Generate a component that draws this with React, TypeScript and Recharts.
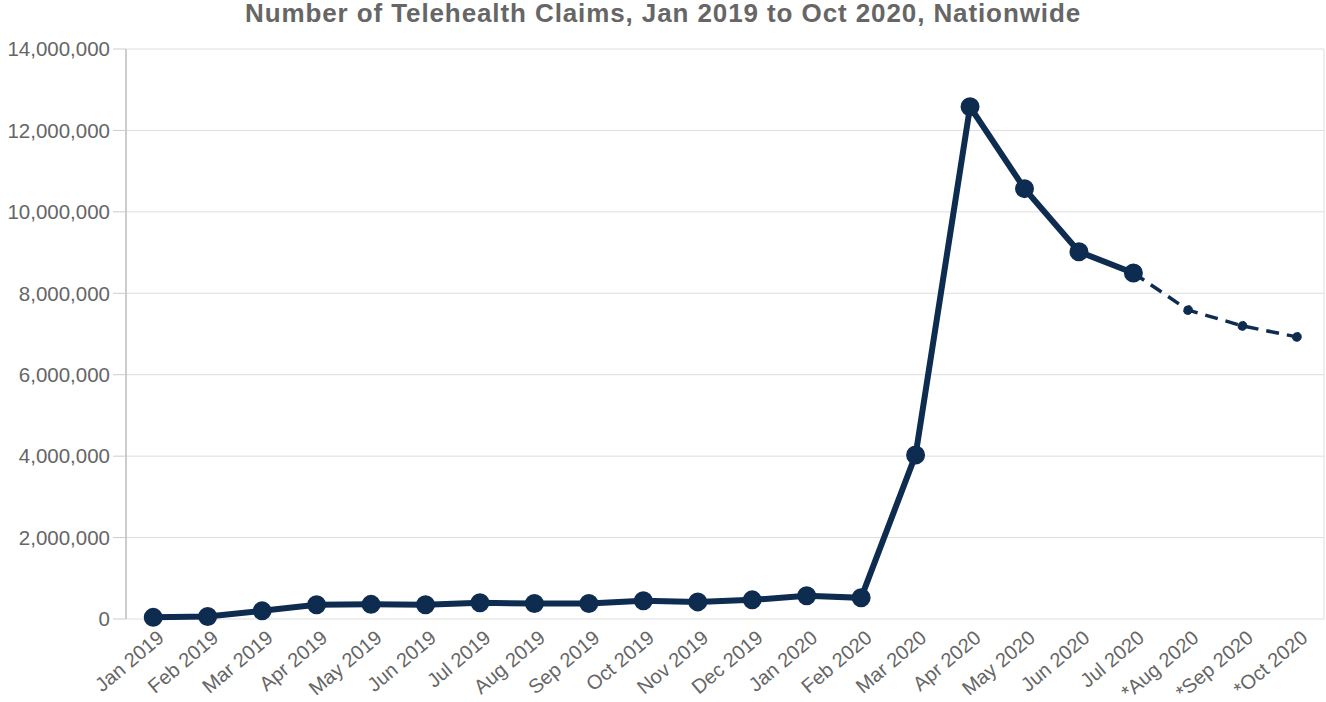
import React from 'react';
import { LineChart, Line, XAxis, YAxis, CartesianGrid } from 'recharts';

const months = [
  'Jan 2019', 'Feb 2019', 'Mar 2019', 'Apr 2019', 'May 2019', 'Jun 2019',
  'Jul 2019', 'Aug 2019', 'Sep 2019', 'Oct 2019', 'Nov 2019', 'Dec 2019',
  'Jan 2020', 'Feb 2020', 'Mar 2020', 'Apr 2020', 'May 2020', 'Jun 2020',
  'Jul 2020', '*Aug 2020', '*Sep 2020', '*Oct 2020',
];

// reported claims (solid line)
const claims: (number | null)[] = [
  40000, 60000, 200000, 350000, 360000, 350000,
  400000, 380000, 380000, 450000, 420000, 470000,
  570000, 520000, 4030000, 12580000, 10570000, 9020000,
  8500000, null, null, null,
];

// estimated claims (dashed line), starts at the last reported month
const estimated: (number | null)[] = [
  null, null, null, null, null, null,
  null, null, null, null, null, null,
  null, null, null, null, null, null,
  8500000, 7590000, 7200000, 6930000,
];

const yTicks = [0, 2000000, 4000000, 6000000, 8000000, 10000000, 12000000, 14000000];

const data = months.map((m, i) => ({
  idx: i,
  month: m,
  claims: claims[i],
  estimated: estimated[i],
}));

const labelTicks = months.map((_, i) => i);
const boundaryTicks = [...months.map((_, i) => i - 0.5), months.length - 0.5];
const xDomain = [-0.5, months.length - 0.5];

const NAVY = '#0d2c4f';
const FONT = '"Liberation Sans", Arial, sans-serif';

const MonthTick = (props: any) => {
  const { x, y, payload } = props;
  return (
    <g transform={`translate(${x + 3},${y}) rotate(-40)`}>
      <text x={0} y={0} dy="0.71em" textAnchor="end" fill="#666" fontSize={20} fontFamily={FONT}>
        {months[payload.value]}
      </text>
    </g>
  );
};

const App: React.FC = () => {
  return (
    <div style={{ position: 'absolute', left: 0, top: 0, width: 1326, height: 702, background: '#fff', fontFamily: FONT }}>
      <div
        style={{
          position: 'absolute',
          top: 0,
          left: 0,
          width: 1326,
          textAlign: 'center',
          fontSize: 26,
          lineHeight: '26px',
          letterSpacing: 0.9,
          fontWeight: 'bold',
          color: '#666',
        }}
      >
        Number of Telehealth Claims, Jan 2019 to Oct 2020, Nationwide
      </div>
      <LineChart
        width={1326}
        height={702}
        data={data}
        margin={{ top: 49, right: 2, left: 0, bottom: 0 }}
      >
        <CartesianGrid stroke="#dedede" xAxisId="grid" />
        <XAxis
          xAxisId="grid"
          dataKey="idx"
          type="number"
          domain={xDomain}
          ticks={boundaryTicks}
          height={0}
          tick={false}
          tickSize={14}
          tickLine={{ stroke: '#dedede' }}
          axisLine={{ stroke: '#aaa' }}
        />
        <XAxis
          xAxisId="main"
          dataKey="idx"
          type="number"
          domain={xDomain}
          ticks={labelTicks}
          height={83}
          interval={0}
          tickSize={10}
          tickMargin={0}
          tickLine={false}
          axisLine={false}
          tick={<MonthTick />}
        />
        <YAxis
          domain={[0, 14000000]}
          ticks={yTicks}
          width={126}
          tickSize={13}
          tickMargin={3}
          axisLine={{ stroke: '#aaa' }}
          tickLine={{ stroke: '#ccc' }}
          tick={{ fill: '#666', fontSize: 20.5, fontFamily: FONT }}
          tickFormatter={(v: number) => v.toLocaleString('en-US')}
        />
        <Line
          xAxisId="main"
          dataKey="estimated"
          stroke={NAVY}
          strokeWidth={3.5}
          strokeDasharray="13 8"
          dot={{ r: 4.5, fill: NAVY, stroke: NAVY, strokeWidth: 1 }}
          isAnimationActive={false}
          connectNulls={false}
        />
        <Line
          xAxisId="main"
          dataKey="claims"
          stroke={NAVY}
          strokeWidth={6}
          dot={{ r: 8, fill: NAVY, stroke: NAVY, strokeWidth: 3 }}
          isAnimationActive={false}
          connectNulls={false}
        />
      </LineChart>
    </div>
  );
};

export default App;
